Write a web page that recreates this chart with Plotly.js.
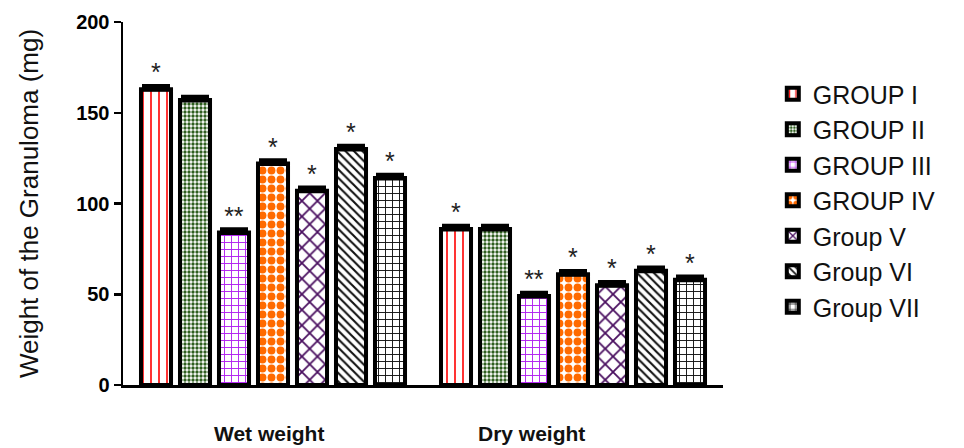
<!DOCTYPE html>
<html>
<head>
<meta charset="utf-8">
<script src="https://cdn.plot.ly/plotly-3.0.1.min.js"></script>
<style>html,body{margin:0;padding:0;background:#fff;}#chart{width:964px;height:448px;}</style>
</head>
<body>
<div id="chart"></div>
<script>
const categories = ['Wet weight', 'Dry weight'];
const groups = ['GROUP I', 'GROUP II', 'GROUP III', 'GROUP IV', 'Group V', 'Group VI', 'Group VII'];
const wetValues = [163, 157, 84, 122, 107, 130, 114];
const dryValues = [86, 86, 49, 61, 55, 63, 58];
const wetErrors = [1.5, 1.5, 1.5, 1.5, 1.5, 1.5, 1.5];
const dryErrors = [1.5, 1.5, 1.5, 1.5, 1.5, 1.5, 1.5];
const wetStars = ['*', '', '**', '*', '*', '*', '*'];
const dryStars = ['*', '', '**', '*', '*', '*', '*'];
const yTicks = [0, 50, 100, 150, 200];

const patterns = [
  {shape: '|', fgcolor: '#ff0000', bgcolor: '#ffffff', size: 8, solidity: 0.2},
  {shape: '.', fgcolor: '#2e5e1e', bgcolor: '#ffffff', size: 4, solidity: 0.55},
  {shape: '+', fgcolor: '#b020f0', bgcolor: '#ffffff', size: 7, solidity: 0.25},
  {shape: '.', fgcolor: '#ff6a00', bgcolor: '#ffffff', size: 9, solidity: 0.6},
  {shape: 'x', fgcolor: '#4a1060', bgcolor: '#ffffff', size: 11, solidity: 0.3},
  {shape: '\\', fgcolor: '#111111', bgcolor: '#ffffff', size: 6, solidity: 0.35},
  {shape: '+', fgcolor: '#111111', bgcolor: '#ffffff', size: 7, solidity: 0.25}
];

const fontFam = 'Liberation Sans, Arial, sans-serif';

const traces = groups.map((g, i) => ({
  type: 'bar',
  name: g,
  x: categories,
  y: [wetValues[i], dryValues[i]],
  text: [wetStars[i], dryStars[i]],
  textposition: 'outside',
  cliponaxis: false,
  textfont: {family: fontFam, size: 25, color: '#222'},
  error_y: {type: 'data', array: [wetErrors[i], dryErrors[i]], visible: true, color: '#000', thickness: 5, width: 14, symmetric: false, arrayminus: [0, 0]},
  marker: {color: '#ffffff', pattern: patterns[i], line: {color: '#000', width: 4}}
}));

const layout = {
  width: 964, height: 448,
  margin: {l: 123, r: 241, t: 22, b: 63},
  paper_bgcolor: '#fff', plot_bgcolor: '#fff',
  barmode: 'group', bargap: 0.09, bargroupgap: 0.23,
  showlegend: true,
  legend: {
    x: 1.083, xanchor: 'left', y: 0.865, yanchor: 'top',
    font: {family: fontFam, size: 25, color: '#111'},
    traceorder: 'normal',
    bgcolor: 'rgba(0,0,0,0)'
  },
  xaxis: {
    type: 'category', range: [-0.5, 1.5],
    showline: true, linecolor: '#000', linewidth: 2.5,
    showticklabels: false, ticks: '', showgrid: false, zeroline: false
  },
  yaxis: {
    range: [0, 200], tickvals: yTicks, ticktext: yTicks.map(String),
    showline: true, linecolor: '#000', linewidth: 2.5,
    ticks: 'outside', ticklen: 7, tickwidth: 2.5, tickcolor: '#000',
    tickfont: {family: fontFam, size: 20, color: '#000', weight: 'bold'},
    showgrid: false, zeroline: false,
    title: {text: 'Weight of the Granuloma (mg)', standoff: 30, font: {family: fontFam, size: 26, color: '#111'}}
  },
  annotations: [
    {x: categories[0], y: 0, xref: 'x', yref: 'paper', yanchor: 'top', yshift: -35, xshift: -4, showarrow: false,
     text: categories[0], font: {family: fontFam, size: 21, color: '#111', weight: 'bold'}},
    {x: categories[1], y: 0, xref: 'x', yref: 'paper', yanchor: 'top', yshift: -35, xshift: -42, showarrow: false,
     text: categories[1], font: {family: fontFam, size: 21, color: '#111', weight: 'bold'}}
  ]
};

Plotly.newPlot('chart', traces, layout, {displayModeBar: false, staticPlot: true});
</script>
</body>
</html>
